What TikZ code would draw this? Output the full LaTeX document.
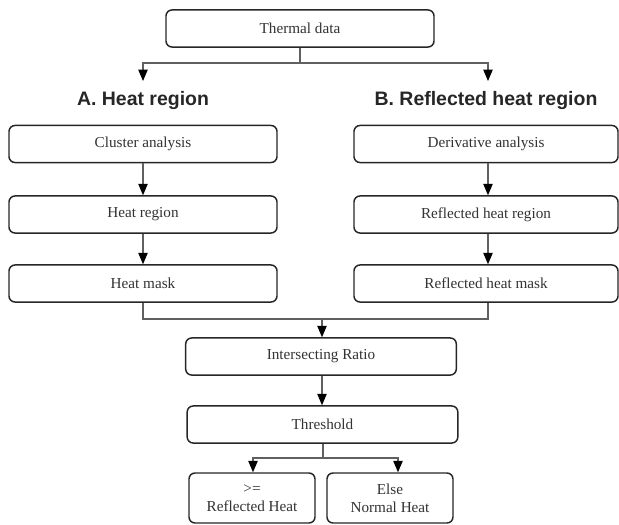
\documentclass[tikz,border=0pt]{standalone}
\usepackage{fontspec}
\setmainfont{Liberation Serif}
\newfontfamily\headfont{Liberation Sans}
\usetikzlibrary{arrows.meta}
\definecolor{txt}{HTML}{333333}
\definecolor{ln}{HTML}{606060}
\tikzset{
  box/.style={draw=black!85, line width=1.1pt, rounded corners=4.5pt, fill=white,
    text=txt, font=\fontsize{11.4pt}{13.5pt}\selectfont, align=center, inner sep=0pt},
  wbox/.style={box, minimum width=201pt, minimum height=27.8pt},
  sbox/.style={box, minimum width=94.5pt, minimum height=37.5pt},
  head/.style={font=\headfont\bfseries\fontsize{14.6pt}{17pt}\selectfont, text=black!85, inner sep=0pt},
  conn/.style={draw=ln, line width=0.85pt},
  arr/.style={conn, -{Triangle[width=7pt,length=8.5pt,color=black]}}
}
\begin{document}
\begin{tikzpicture}[x=0.75pt,y=-0.75pt]
\useasboundingbox (0,0) rectangle (619,525);
% nodes
\node[wbox] (td) at (300,28.5) {Thermal data};
\node[head] (ha) at (143,101) {A. Heat region};
\node[head] (hb) at (486,101) {B. Reflected heat region};
\node[wbox] (c1) at (143,144) {Cluster analysis};
\node[wbox] (c2) at (143,214.5) {Heat region};
\node[wbox] (c3) at (143,283.5) {Heat mask};
\node[wbox, minimum width=198pt] (r1) at (486,144) {Derivative analysis};
\node[wbox, minimum width=198pt] (r2) at (486,214.5) {Reflected heat region};
\node[wbox, minimum width=198pt] (r3) at (486,283.5) {Reflected heat mask};
\node[wbox, minimum width=203pt] (ir) at (321,356.5) {Intersecting Ratio};
\node[wbox, minimum width=203pt] (th) at (322.5,424.5) {Threshold};
\node[sbox] (bl) at (252,498) {>=\\Reflected Heat};
\node[sbox] (br) at (390,498) {Else\\Normal Heat};
% coordinates
\coordinate (f0) at (300,63);
\coordinate (fa) at (143,63);
\coordinate (fb) at (488,63);
\coordinate (ta) at (143,81);
\coordinate (tb) at (488,81);
\coordinate (m0) at (322,319);
\coordinate (ma) at (143,319);
\coordinate (mb) at (488,319);
\coordinate (s0) at (323,458);
\coordinate (sa) at (253,458);
\coordinate (sb) at (398,458);
% connectors
\draw[conn] (td.south) -- (f0);
\draw[arr] (f0) -- (fa) -- (ta);
\draw[arr] (f0) -- (fb) -- (tb);
\draw[arr] (c1.south) -- (c2.north);
\draw[arr] (c2.south) -- (c3.north);
\draw[arr] ([xshift=1.5pt]r1.south) -- ([xshift=1.5pt]r2.north);
\draw[arr] ([xshift=1.5pt]r2.south) -- ([xshift=1.5pt]r3.north);
\draw[conn] (c3.south) -- (ma) -- (mb) -- ([xshift=1.5pt]r3.south);
\draw[arr] (m0) -- (m0 |- ir.north);
\draw[arr] (ir.south -| m0) -- (m0 |- th.north);
\draw[conn] (th.south -| s0) -- (s0);
\draw[arr] (s0) -- (sa) -- (sa |- bl.north);
\draw[arr] (s0) -- (sb) -- (sb |- br.north);
\end{tikzpicture}
\end{document}
